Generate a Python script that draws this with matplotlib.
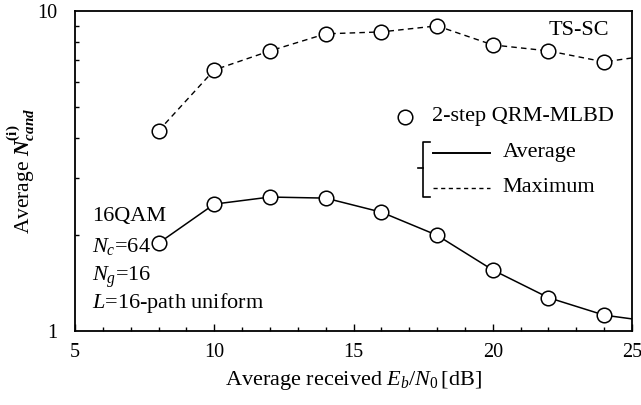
import matplotlib
matplotlib.use("Agg")
import matplotlib.pyplot as plt
from matplotlib.ticker import MultipleLocator, FixedLocator, FixedFormatter, NullFormatter

plt.rcParams['font.family'] = 'Liberation Serif'
plt.rcParams['mathtext.fontset'] = 'custom'
plt.rcParams['mathtext.rm'] = 'Liberation Serif'
plt.rcParams['mathtext.it'] = 'Liberation Serif:italic'
plt.rcParams['mathtext.bf'] = 'Liberation Serif:bold'
plt.rcParams['mathtext.bfit'] = 'Liberation Serif:bold:italic'

# Eb/N0 [dB]
ebn0 = [8, 10, 12, 14, 16, 18, 20, 22, 24, 25]
# 2-step QRM-MLBD, average number of candidates
n_avg = [1.88, 2.49, 2.62, 2.60, 2.35, 1.99, 1.55, 1.27, 1.12, 1.09]
# 2-step QRM-MLBD, maximum number of candidates
n_max = [4.22, 6.54, 7.5, 8.48, 8.6, 8.98, 7.83, 7.5, 6.93, 7.13]

fs = 16
fig = plt.figure(figsize=(6.41, 4.05), dpi=100)
ax = fig.add_axes([0.117, 0.183, 0.869, 0.790])

marks = list(range(9))  # last point (25 dB) has no marker
ax.plot(ebn0, n_avg, color='black', lw=1.1, marker='o', ms=10.5,
        mfc='white', mec='black', mew=1.1, markevery=marks)
ax.plot(ebn0, n_max, color='black', lw=1.0, ls=(0, (4, 3)), marker='o', ms=10.5,
        mfc='white', mec='black', mew=1.1, markevery=marks)

ax.set_xlim(5, 25)
ax.set_yscale('log')
ax.set_ylim(1, 10)
ax.xaxis.set_major_locator(MultipleLocator(5))
ax.xaxis.set_minor_locator(MultipleLocator(1))
ax.yaxis.set_major_locator(FixedLocator([1, 10]))
ax.yaxis.set_major_formatter(FixedFormatter(['1', '10']))
ax.yaxis.set_minor_locator(FixedLocator([2, 3, 4, 5, 6, 7, 8, 9]))
ax.yaxis.set_minor_formatter(NullFormatter())
ax.tick_params(which='both', direction='in', labelsize=14.5, width=1.0)
ax.tick_params(which='major', length=5)
ax.tick_params(which='minor', length=3)
ax.tick_params(axis='x', which='major', pad=9)
ax.tick_params(axis='y', which='major', length=0, pad=13)
for s in ax.spines.values():
    s.set_linewidth(1.3)

ax.set_xlabel(r'Average received $E_b/N_0\,$[dB]', fontsize=fs, labelpad=5)
ax.set_ylabel(r'Average $\mathbfit{N}_{\mathbfit{cand}}^{\mathbf{(i)}}$', fontsize=15.5, labelpad=0)

# annotations
ax.text(0.959, 0.9375, 'TS-SC', transform=ax.transAxes, fontsize=fs, ha='right', va='center')
tx = 0.03
ax.text(tx, 0.356, '16QAM', transform=ax.transAxes, fontsize=fs, va='center')
ax.text(tx, 0.265, r'$N_c$=64', transform=ax.transAxes, fontsize=fs, va='center')
ax.text(tx, 0.169, r'$N_g$=16', transform=ax.transAxes, fontsize=fs, va='center')
ax.text(tx, 0.0875, r'$L$=16-path uniform', transform=ax.transAxes, fontsize=fs, va='center')

# custom legend
ax.plot([0.592], [0.669], transform=ax.transAxes, marker='o', ms=10.5, mfc='white',
        mec='black', mew=1.1, clip_on=False)
ax.text(0.641, 0.669, '2-step QRM-MLBD', transform=ax.transAxes, fontsize=fs, va='center')
bx = 0.625
ax.plot([bx + 0.012, bx, bx, bx + 0.012], [0.59, 0.59, 0.419, 0.419],
        transform=ax.transAxes, color='black', lw=1.2)
ax.plot([0.616, bx], [0.509, 0.509], transform=ax.transAxes, color='black', lw=1.2)
ax.plot([0.643, 0.745], [0.556, 0.556], transform=ax.transAxes, color='black', lw=1.4)
ax.plot([0.643, 0.745], [0.447, 0.447], transform=ax.transAxes, color='black', lw=1.0, ls=(0, (3, 2.5)))
ax.text(0.768, 0.556, 'Average', transform=ax.transAxes, fontsize=fs, va='center')
ax.text(0.768, 0.447, 'Maximum', transform=ax.transAxes, fontsize=fs, va='center')

fig.savefig('out.png', dpi=100)
